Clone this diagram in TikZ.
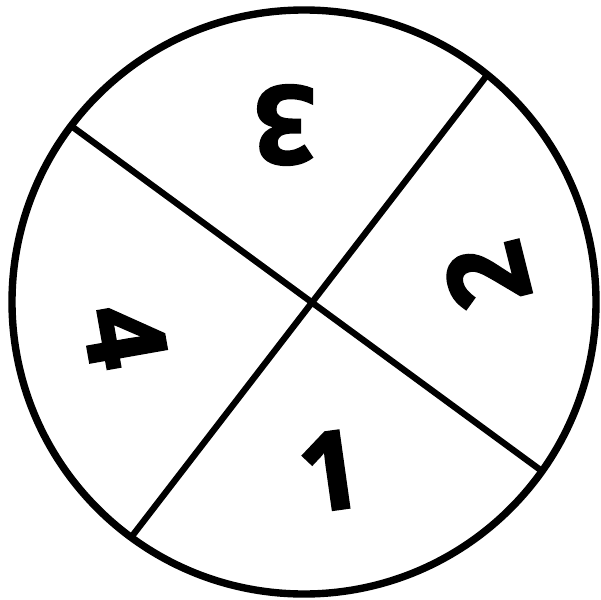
\documentclass[tikz,border=0pt]{standalone}
\usepackage{fontspec}
\setmainfont{Liberation Sans}
\newfontfamily\heavyfont[BoldFeatures={FakeBold=2.2}]{Open Sans}
\usepackage{tikz}
\usetikzlibrary{calc}

\begin{document}
\begin{tikzpicture}[
    x=0.02cm, y=0.02cm,
    rim/.style={draw, line width=4.2pt},
    chord/.style={draw, line width=3.6pt, line cap=round},
    num/.style={font=\fontsize{62}{62}\heavyfont\bfseries, inner sep=0pt}
  ]
    \useasboundingbox (0,0) rectangle (601,599);
    \coordinate (c) at (304,297);
    \draw[rim] (c) circle (292);

    % chord end points on the rim
    \coordinate (a1) at ($(c)+(142.9:292)$);
    \coordinate (a2) at ($(c)+(-35.4:292)$);
    \coordinate (b1) at ($(c)+(51.1:292)$);
    \coordinate (b2) at ($(c)+(233.7:292)$);
    \draw[chord] (a1) -- (a2);
    \draw[chord] (b1) -- (b2);

    \node[num, rotate=180] (three) at (285,474) {3};
    \node[num, rotate=104] (two) at (487,323) {2};
    \node[num, rotate=-80] (four) at (125,263) {4};
    \node[num, rotate=8] (one) at (330,128) {1};
  \end{tikzpicture}
\end{document}
